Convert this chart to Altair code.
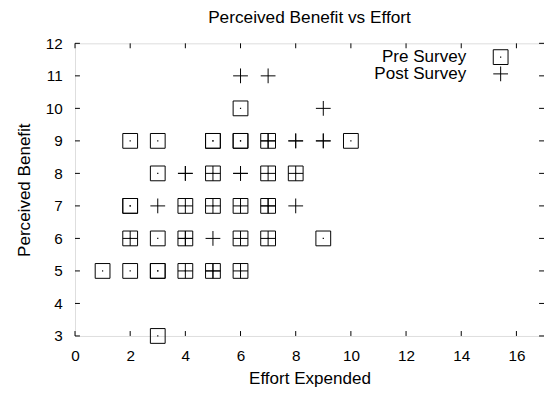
import altair as alt
import pandas as pd

# Pre Survey points (duplicates = overlapping responses)
pre_x = [6, 2, 3, 5, 5, 6, 6, 7, 10, 3, 5, 7, 8, 2, 2, 4, 5, 6, 7,
         2, 3, 4, 6, 7, 9, 1, 2, 3, 3, 4, 5, 6, 3]
pre_y = [10, 9, 9, 9, 9, 9, 9, 9, 9, 8, 8, 8, 8, 7, 7, 7, 7, 7, 7,
         6, 6, 6, 6, 6, 6, 5, 5, 5, 5, 5, 5, 5, 3]

# Post Survey points
post_x = [6, 7, 9, 7, 7, 8, 8, 9, 9, 4, 4, 5, 6, 6, 7, 8,
          3, 4, 5, 6, 7, 7, 8, 2, 4, 4, 5, 6, 7, 4, 5, 5, 6]
post_y = [11, 11, 10, 9, 9, 9, 9, 9, 9, 8, 8, 8, 8, 8, 8, 8,
          7, 7, 7, 7, 7, 7, 7, 6, 6, 6, 6, 6, 6, 5, 5, 5, 5]

x_ticks = [0, 2, 4, 6, 8, 10, 12, 14, 16]
y_ticks = [3, 4, 5, 6, 7, 8, 9, 10, 11, 12]
legend_labels = ["Pre Survey", "Post Survey"]
chart_title = ["Perceived Benefit vs Effort"]

FONT = "Liberation Sans"
W, H = 476, 297
PLUS = "M-1,0H1M0,-1V1"

pre = pd.DataFrame({"x": pre_x, "y": pre_y})
post = pd.DataFrame({"x": post_x, "y": post_y})
xt = pd.DataFrame({"x": x_ticks})
yt = pd.DataFrame({"y": y_ticks})

xscale = alt.Scale(domain=[0, 17], nice=False, zero=False)
yscale = alt.Scale(domain=[3, 12], nice=False, zero=False)

xaxis = alt.Axis(values=x_ticks, ticks=False, tickSize=0, domain=False, grid=False,
                 labelOverlap=False, labelFlush=False,
                 labelFont=FONT, labelFontSize=15.5, labelColor="black", labelPadding=12.5,
                 title="Effort Expended", titleFont=FONT, titleFontSize=17.3,
                 titleFontWeight="normal", titleColor="black",
                 titleBaseline="alphabetic", titleY=48.7, titleX=W / 2)
yaxis = alt.Axis(values=y_ticks, ticks=False, tickSize=0, domain=False, grid=False,
                 labelOverlap=False, labelFlush=False,
                 labelFont=FONT, labelFontSize=15.5, labelColor="black", labelPadding=13,
                 title="Perceived Benefit", titleFont=FONT, titleFontSize=17.3,
                 titleFontWeight="normal", titleColor="black", titleAngle=270,
                 titleBaseline="alphabetic", titleX=-46, titleY=H / 2, titleAlign="center")

X = alt.X("x:Q", scale=xscale, axis=xaxis)
Y = alt.Y("y:Q", scale=yscale, axis=yaxis)

pre_box = alt.Chart(pre).mark_point(shape="square", filled=False, size=225, strokeWidth=1,
                                    color="black", opacity=1, clip=False).encode(x=X, y=Y)
pre_dot = alt.Chart(pre).mark_point(shape="square", filled=True, size=1.5, color="black",
                                    opacity=1, clip=False).encode(x=X, y=Y)
post_plus = alt.Chart(post).mark_point(shape=PLUS, filled=False, size=225, strokeWidth=1,
                                       color="black", opacity=1, clip=False).encode(x=X, y=Y)

TL = 5
top_ticks = alt.Chart(xt).mark_rule(color="black", strokeWidth=1).encode(
    x=X, y=alt.value(0), y2=alt.value(TL))
bot_ticks = alt.Chart(xt).mark_rule(color="black", strokeWidth=1).encode(
    x=X, y=alt.value(H), y2=alt.value(H - TL))
left_ticks = alt.Chart(yt).mark_rule(color="black", strokeWidth=1).encode(
    y=Y, x=alt.value(0), x2=alt.value(TL))
right_ticks = alt.Chart(yt).mark_rule(color="black", strokeWidth=1).encode(
    y=Y, x=alt.value(W), x2=alt.value(W - TL))

# chart title as a text mark above the plot
title_df = pd.DataFrame({"t": chart_title})
title_mark = alt.Chart(title_df).mark_text(align="center", baseline="alphabetic", font=FONT,
                                           fontSize=17.5, color="black").encode(
    text="t:N", x=alt.value(W / 2), y=alt.value(-20.5))

# legend (top-right, labels right-aligned, symbols to the right)
leg_pre = pd.DataFrame({"label": [legend_labels[0]]})
leg_post = pd.DataFrame({"label": [legend_labels[1]]})
LX_TEXT, LX_SYM, LY1, LY2 = 397, 432, 14, 31

leg_t1 = alt.Chart(leg_pre).mark_text(align="right", baseline="middle", font=FONT,
                                      fontSize=17.3, color="black").encode(
    text="label:N", x=alt.value(LX_TEXT), y=alt.value(LY1))
leg_t2 = alt.Chart(leg_post).mark_text(align="right", baseline="middle", font=FONT,
                                       fontSize=17.3, color="black").encode(
    text="label:N", x=alt.value(LX_TEXT), y=alt.value(LY2))
leg_s1 = alt.Chart(leg_pre).mark_point(shape="square", filled=False, size=225, strokeWidth=1,
                                       color="black", opacity=1).encode(
    x=alt.value(LX_SYM), y=alt.value(LY1))
leg_s1d = alt.Chart(leg_pre).mark_point(shape="square", filled=True, size=1.5,
                                        color="black", opacity=1).encode(
    x=alt.value(LX_SYM), y=alt.value(LY1))
leg_s2 = alt.Chart(leg_post).mark_point(shape=PLUS, filled=False, size=225, strokeWidth=1,
                                        color="black", opacity=1).encode(
    x=alt.value(LX_SYM), y=alt.value(LY2))

chart = alt.layer(
    pre_box, top_ticks, bot_ticks, left_ticks, right_ticks,
    pre_dot, post_plus, title_mark,
    leg_t1, leg_t2, leg_s1, leg_s1d, leg_s2,
).properties(
    width=W, height=H,
    autosize=alt.AutoSizeParams(type="none"),
    padding={"left": 68, "top": 33, "right": 0, "bottom": 53},
).configure_axis(
    labelOverlap=False
).configure_view(
    stroke="black", strokeWidth=1
).configure(background="white")

chart.save("out.html", embed_options={"renderer": "svg", "actions": False})
